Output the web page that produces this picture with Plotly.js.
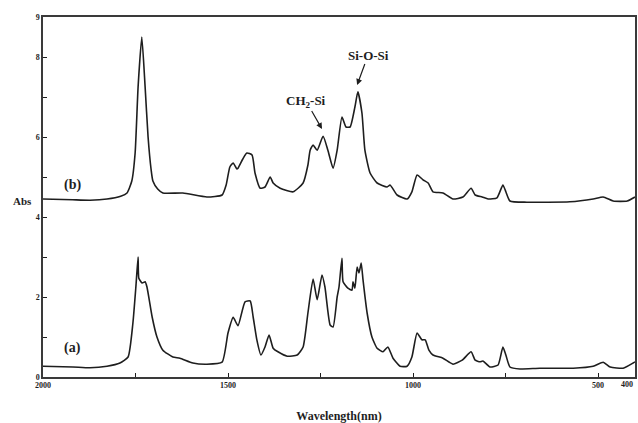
<!DOCTYPE html>
<html>
<head>
<meta charset="utf-8">
<script src="https://cdn.plot.ly/plotly-3.0.1.min.js"></script>
<style>
  html, body { margin: 0; padding: 0; background: #fff; }
  #chart { width: 638px; height: 423px; }
</style>
</head>
<body>
<div id="chart"></div>
<script>
// FTIR spectra: wavenumber (cm-1) against absorbance, spectrum (b) sits above (a)
const wnB = [2000, 1920, 1873, 1827, 1790, 1773, 1760, 1751, 1743, 1733, 1724, 1716, 1708, 1703, 1690, 1676, 1622, 1557, 1516, 1505, 1495, 1486, 1476, 1473, 1460, 1449, 1435, 1427, 1413, 1400, 1386, 1378, 1359, 1324, 1297, 1284, 1278, 1270, 1259, 1243, 1230, 1216, 1205, 1192, 1181, 1170, 1157, 1149, 1138, 1130, 1116, 1097, 1070, 1062, 1043, 1016, 1003, 989, 973, 959, 946, 919, 892, 865, 843, 832, 813, 797, 773, 757, 749, 738, 692, 576, 513, 486, 459, 421, 400];
const absB = [4.45, 4.43, 4.42, 4.45, 4.52, 4.6, 4.9, 5.6, 7.25, 8.5, 7.25, 6.0, 5.2, 4.9, 4.7, 4.6, 4.6, 4.5, 4.55, 4.8, 5.25, 5.35, 5.2, 5.22, 5.45, 5.6, 5.55, 5.1, 4.72, 4.75, 5.0, 4.85, 4.72, 4.63, 4.85, 5.3, 5.67, 5.8, 5.67, 6.02, 5.67, 5.22, 5.67, 6.5, 6.25, 6.25, 6.75, 7.13, 6.6, 5.67, 5.1, 4.85, 4.75, 4.8, 4.55, 4.45, 4.63, 5.05, 4.93, 4.85, 4.63, 4.6, 4.45, 4.5, 4.72, 4.55, 4.5, 4.45, 4.48, 4.8, 4.63, 4.4, 4.37, 4.38, 4.45, 4.5, 4.4, 4.4, 4.5];

const wnA = [2000, 1919, 1873, 1827, 1792, 1770, 1757, 1749, 1743, 1741, 1732, 1724, 1719, 1705, 1692, 1676, 1649, 1630, 1595, 1557, 1516, 1500, 1486, 1473, 1454, 1440, 1432, 1422, 1411, 1400, 1389, 1378, 1365, 1340, 1313, 1297, 1284, 1270, 1259, 1246, 1238, 1224, 1216, 1205, 1200, 1192, 1189, 1176, 1165, 1162, 1157, 1151, 1146, 1140, 1135, 1124, 1111, 1097, 1081, 1068, 1054, 1035, 1016, 1003, 989, 976, 967, 957, 946, 919, 892, 867, 843, 832, 819, 811, 792, 770, 757, 749, 738, 711, 657, 567, 513, 486, 467, 432, 405, 400];
const absA = [0.27, 0.25, 0.23, 0.27, 0.35, 0.5, 1.35, 2.25, 3.0, 2.47, 2.35, 2.38, 2.25, 1.5, 1.0, 0.67, 0.5, 0.47, 0.35, 0.32, 0.37, 1.1, 1.49, 1.28, 1.88, 1.9, 1.5, 0.93, 0.55, 0.75, 1.05, 0.72, 0.63, 0.52, 0.55, 0.75, 1.6, 2.45, 1.93, 2.55, 2.25, 1.3, 1.25, 2.0, 2.25, 2.97, 2.38, 2.22, 2.17, 2.38, 2.22, 2.75, 2.6, 2.85, 2.42, 1.6, 1.0, 0.72, 0.63, 0.75, 0.47, 0.27, 0.27, 0.5, 1.1, 0.93, 0.93, 0.67, 0.55, 0.47, 0.32, 0.42, 0.63, 0.42, 0.38, 0.4, 0.25, 0.3, 0.75, 0.55, 0.25, 0.2, 0.22, 0.22, 0.27, 0.37, 0.25, 0.22, 0.35, 0.38];

const xTickVals = [2000, 1500, 1000, 500];
const xMinorVals = [1750, 1250, 750];
const xEndLabel = 400;
const yTickVals = [0, 2, 4, 6, 8, 9];
const yMinorVals = [1, 3, 5, 7];

const serif = 'Liberation Serif, Times New Roman, serif';
const ink = '#1e1e1e';
const lineStyle = { color: ink, width: 1.6, shape: 'spline', smoothing: 0.5 };

const traces = [
  { x: wnA, y: absA, type: 'scatter', mode: 'lines', line: lineStyle, hoverinfo: 'skip' },
  { x: wnB, y: absB, type: 'scatter', mode: 'lines', line: lineStyle, hoverinfo: 'skip' }
];

const tickFont = { family: serif, size: 8, color: ink, weight: 700 };
const labelFont = { family: serif, size: 14, color: ink, weight: 700 };

const layout = {
  width: 638,
  height: 423,
  margin: { l: 43, r: 3, t: 17, b: 46 },
  paper_bgcolor: '#ffffff',
  plot_bgcolor: '#ffffff',
  showlegend: false,
  xaxis: {
    range: [2000, 400],
    tickmode: 'array', tickvals: xTickVals,
    ticks: 'inside', ticklen: 4, tickwidth: 1, tickcolor: ink,
    minor: { tickmode: 'array', tickvals: xMinorVals, ticks: 'inside', ticklen: 4, tickwidth: 1, tickcolor: ink, showgrid: false },
    showline: true, mirror: true, linecolor: '#3a3a3a', linewidth: 1.6,
    showgrid: false, zeroline: false,
    tickfont: tickFont,
    title: { text: 'Wavelength(nm)', font: { family: serif, size: 12, color: ink, weight: 700 }, standoff: 22 }
  },
  yaxis: {
    range: [0, 9],
    tickmode: 'array', tickvals: yTickVals,
    ticks: 'inside', ticklen: 4, tickwidth: 1, tickcolor: ink,
    minor: { tickmode: 'array', tickvals: yMinorVals, ticks: 'inside', ticklen: 4, tickwidth: 1, tickcolor: ink, showgrid: false },
    showline: true, mirror: true, linecolor: '#3a3a3a', linewidth: 1.6,
    showgrid: false, zeroline: false,
    tickfont: tickFont
  },
  annotations: [
    { xref: 'x', yref: 'paper', x: xEndLabel, y: 0, yshift: -1, xanchor: 'right', yanchor: 'top',
      text: String(xEndLabel), showarrow: false, font: tickFont },
    { xref: 'paper', yref: 'paper', x: -0.035, y: 0.49, xanchor: 'center', yanchor: 'middle',
      text: 'Abs', showarrow: false, font: { family: serif, size: 11, color: ink, weight: 700 } },
    { xref: 'x', yref: 'y', x: 1919, y: 4.8, xanchor: 'center', yanchor: 'middle',
      text: '(b)', showarrow: false, font: labelFont },
    { xref: 'x', yref: 'y', x: 1919, y: 0.72, xanchor: 'center', yanchor: 'middle',
      text: '(a)', showarrow: false, font: labelFont },
    { xref: 'x', yref: 'y', x: 1151, y: 7.3, text: 'Si-O-Si',
      showarrow: true, arrowhead: 2, arrowsize: 1, arrowwidth: 1.2, arrowcolor: ink,
      ax: 11, ay: -30, standoff: 0, font: { family: serif, size: 13, color: ink, weight: 700 } },
    { xref: 'x', yref: 'y', x: 1246, y: 6.2, text: 'CH<sub>2</sub>-Si',
      showarrow: true, arrowhead: 2, arrowsize: 1, arrowwidth: 1.2, arrowcolor: ink,
      ax: -16, ay: -28, standoff: 0, font: { family: serif, size: 13, color: ink, weight: 700 } }
  ]
};

Plotly.newPlot('chart', traces, layout, { staticPlot: true, displayModeBar: false });
</script>
</body>
</html>
